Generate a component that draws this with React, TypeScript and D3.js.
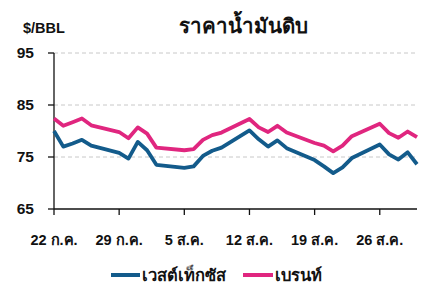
import React from "react";
import * as d3 from "d3";

const dates = [
  "2024-07-22","2024-07-23","2024-07-24","2024-07-25","2024-07-26",
  "2024-07-29","2024-07-30","2024-07-31","2024-08-01","2024-08-02",
  "2024-08-05","2024-08-06","2024-08-07","2024-08-08","2024-08-09",
  "2024-08-12","2024-08-13","2024-08-14","2024-08-15","2024-08-16",
  "2024-08-19","2024-08-20","2024-08-21","2024-08-22","2024-08-23",
  "2024-08-26","2024-08-27","2024-08-28","2024-08-29","2024-08-30",
];
const wti = [
  80.0, 77.0, 77.6, 78.3, 77.2,
  75.8, 74.7, 77.9, 76.3, 73.5,
  72.9, 73.2, 75.2, 76.2, 76.8,
  80.1, 78.4, 77.0, 78.2, 76.7,
  74.4, 73.2, 71.9, 73.0, 74.8,
  77.4, 75.5, 74.5, 75.9, 73.6,
];
const brent = [
  82.4, 81.0, 81.7, 82.4, 81.1,
  79.8, 78.6, 80.7, 79.5, 76.8,
  76.3, 76.5, 78.3, 79.2, 79.7,
  82.3, 80.7, 79.8, 81.0, 79.7,
  77.7, 77.2, 76.1, 77.2, 79.0,
  81.4, 79.6, 78.7, 79.9, 78.8,
];
const yTicks = [65, 75, 85, 95];
const xTickDates = ["2024-07-22","2024-07-29","2024-08-05","2024-08-12","2024-08-19","2024-08-26"];
const xTickLabels = ["22 ก.ค.", "29 ก.ค.", "5 ส.ค.", "12 ส.ค.", "19 ส.ค.", "26 ส.ค."];
const seriesNames = ["เวสต์เท็กซัส", "เบรนท์"];
const title = "ราคาน้ำมันดิบ";
const unit = "$/BBL";

const BLUE = "#135b8b";
const PINK = "#e0267f";

export default function App() {
  const W = 434, H = 301;
  const left = 54, right = 417, top = 53, bottom = 209;
  const parse = d3.utcParse("%Y-%m-%d");
  const ds = dates.map((d) => parse(d) as Date);
  const x = d3.scaleUtc().domain([ds[0], ds[ds.length - 1]]).range([left, right]);
  const y = d3.scaleLinear().domain([65, 95]).range([bottom, top]);
  const line = d3.line<number>().x((_, i) => x(ds[i])).y((v) => y(v));
  const font = "'Liberation Sans', Arial, sans-serif";
  return (
    <svg width={W} height={H} style={{ position: "absolute", left: 0, top: 0, background: "#fff" }} fontFamily={font}>
      <rect width={W} height={H} fill="#fff" />
      <text x={23} y={33} fontSize={14.5} fontWeight="bold" fill="#111">{unit}</text>
      <text x={243} y={33} fontSize={20.5} fontWeight="bold" textAnchor="middle" fill="#111">{title}</text>
      {yTicks.filter((t) => t !== 65).map((t) => (
        <line key={"g" + t} x1={left} x2={right} y1={y(t)} y2={y(t)} stroke="#c8c8c8" strokeWidth={1} strokeDasharray="4,3" />
      ))}
      {yTicks.map((t) => (
        <g key={"y" + t}>
          <line x1={left - 6} x2={left} y1={y(t)} y2={y(t)} stroke="#111" strokeWidth={1.3} />
          <text x={34} y={y(t) + 5} fontSize={15.5} fontWeight="bold" textAnchor="end" fill="#111">{t}</text>
        </g>
      ))}
      <line x1={left} x2={left} y1={top} y2={bottom} stroke="#111" strokeWidth={1.3} />
      <line x1={left} x2={right} y1={bottom} y2={bottom} stroke="#111" strokeWidth={1.3} />
      {xTickDates.map((d, i) => {
        const xx = x(parse(d) as Date);
        return (
          <g key={"x" + d}>
            <line x1={xx} x2={xx} y1={bottom} y2={bottom + 6} stroke="#111" strokeWidth={1.3} />
            <text x={xx} y={245} fontSize={14.5} fontWeight="bold" textAnchor="middle" fill="#111">{xTickLabels[i]}</text>
          </g>
        );
      })}
      <path d={line(brent) || ""} fill="none" stroke={PINK} strokeWidth={3.8} strokeLinejoin="round" />
      <path d={line(wti) || ""} fill="none" stroke={BLUE} strokeWidth={3.8} strokeLinejoin="round" />
      <line x1={111} x2={140} y1={275} y2={275} stroke={BLUE} strokeWidth={4} />
      <text x={142} y={281} fontSize={16.5} fontWeight="bold" fill="#111">{seriesNames[0]}</text>
      <line x1={243} x2={273} y1={275} y2={275} stroke={PINK} strokeWidth={4} />
      <text x={275} y={281} fontSize={16.5} fontWeight="bold" fill="#111">{seriesNames[1]}</text>
    </svg>
  );
}
